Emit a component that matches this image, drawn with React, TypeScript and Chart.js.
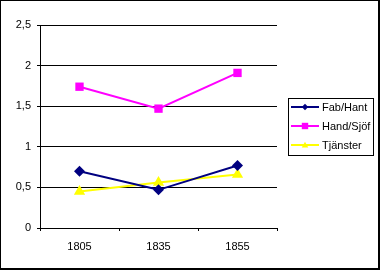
import React, { useEffect, useRef } from 'react';
import { Chart, registerables } from 'chart.js';

Chart.register(...registerables);

const categories = ['1805', '1835', '1855'];
const fabHant = [0.7, 0.47, 0.77];
const handSjof = [1.74, 1.47, 1.91];
const tjanster = [0.45, 0.56, 0.66];
const seriesNames = ['Fab/Hant', 'Hand/Sjöf', 'Tjänster'];

const COLORS = ['#000080', '#FF00FF', '#FFFF00'];
const STYLES = ['rectRot', 'rect', 'triangle'];
const RADII = [5.5, 5.9, 6.5];
const FONT = { family: "'Liberation Sans', Arial, sans-serif", size: 11 };

function drawMarker(ctx: CanvasRenderingContext2D, style: string, x: number, y: number, s: number, color: string) {
  ctx.save();
  ctx.fillStyle = color;
  ctx.beginPath();
  if (style === 'rect') {
    ctx.rect(x - s, y - s, 2 * s, 2 * s);
  } else if (style === 'rectRot') {
    ctx.moveTo(x, y - s);
    ctx.lineTo(x + s, y);
    ctx.lineTo(x, y + s);
    ctx.lineTo(x - s, y);
    ctx.closePath();
  } else {
    ctx.moveTo(x, y - s);
    ctx.lineTo(x + s, y + s * 0.8);
    ctx.lineTo(x - s, y + s * 0.8);
    ctx.closePath();
  }
  ctx.fill();
  ctx.restore();
}

const framePlugin = {
  id: 'frame',
  beforeDraw(chart: any) {
    const ctx = chart.ctx;
    ctx.save();
    ctx.fillStyle = '#fff';
    ctx.fillRect(0, 0, chart.width, chart.height);
    ctx.restore();
  },
  afterDraw(chart: any) {
    const ctx: CanvasRenderingContext2D = chart.ctx;
    ctx.save();
    ctx.strokeStyle = '#000';
    ctx.lineWidth = 2;
    ctx.strokeRect(0, 0, 379, 269);
    // legend box
    ctx.lineWidth = 1;
    ctx.strokeRect(288.5, 98.5, 85, 57);
    ctx.font = `${FONT.size}px ${FONT.family}`;
    ctx.textBaseline = 'middle';
    ctx.textAlign = 'left';
    chart.data.datasets.forEach((ds: any, i: number) => {
      const y = 107 + i * 19;
      ctx.strokeStyle = ds.borderColor;
      ctx.lineWidth = 2;
      ctx.beginPath();
      ctx.moveTo(291, y);
      ctx.lineTo(319, y);
      ctx.stroke();
      drawMarker(ctx, STYLES[i], 305, y, 3.2, ds.borderColor);
      ctx.fillStyle = '#000';
      ctx.fillText(ds.label, 322, y + 0.5);
    });
    ctx.restore();
  },
};

export default function App() {
  const ref = useRef<HTMLCanvasElement | null>(null);
  useEffect(() => {
    if (!ref.current) return;
    const series = [fabHant, handSjof, tjanster];
    const chart = new Chart(ref.current, {
      type: 'line',
      data: {
        labels: categories,
        datasets: series.map((d, i) => ({
          label: seriesNames[i],
          data: d,
          borderColor: COLORS[i],
          backgroundColor: COLORS[i],
          pointBackgroundColor: COLORS[i],
          pointBorderColor: COLORS[i],
          pointBorderWidth: 0,
          borderWidth: 2,
          pointStyle: STYLES[i] as any,
          pointRadius: RADII[i],
          tension: 0,
          fill: false,
        })),
      },
      options: {
        animation: false,
        responsive: false,
        maintainAspectRatio: false,
        layout: { padding: { left: 0, top: 25, right: 105, bottom: 0 } },
        plugins: { legend: { display: false }, tooltip: { enabled: false } },
        scales: {
          x: {
            type: 'category',
            offset: true,
            grid: { display: true, drawOnChartArea: false, drawTicks: true, tickLength: 3, color: '#000', offset: true },
            border: { display: true, color: '#000', width: 1 },
            ticks: { color: '#000', font: FONT, padding: 9, maxRotation: 0 },
            afterFit: (s: any) => { s.height = 42; },
          },
          y: {
            min: 0,
            max: 2.5,
            ticks: {
              stepSize: 0.5,
              color: '#000',
              font: FONT,
              padding: 6,
              callback: (v: any) => String(v).replace('.', ','),
            },
            grid: { color: '#000', tickLength: 3 },
            border: { display: true, color: '#000', width: 1 },
            afterFit: (s: any) => { s.width = 40; },
          },
        },
      },
      plugins: [framePlugin],
    });
    return () => chart.destroy();
  }, []);
  return (
    <div style={{ position: 'fixed', left: 0, top: 0, width: 382, height: 270 }}>
      <canvas ref={ref} width={382} height={270} style={{ display: 'block' }} />
    </div>
  );
}
